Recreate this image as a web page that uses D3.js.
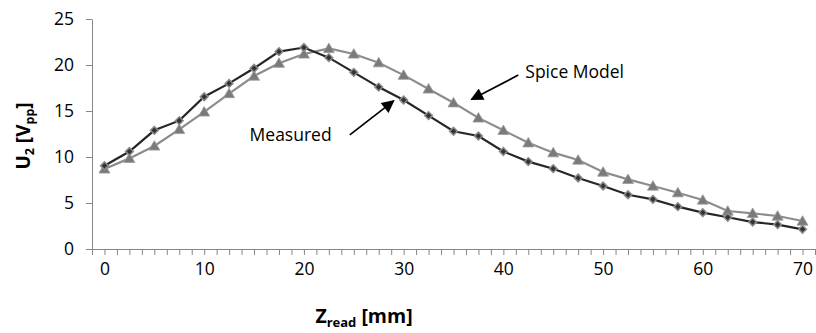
<!DOCTYPE html>
<html>
<head>
<meta charset="utf-8">
<script src="https://cdn.jsdelivr.net/npm/d3@7"></script>
<style>
html,body{margin:0;padding:0;background:#fff;}
svg{display:block;}
text{font-family:"Open Sans","Liberation Sans",sans-serif;}
</style>
</head>
<body>
<svg id="chart" width="816" height="333"></svg>
<script>
// ---- data ----
const zRead = [0,2.5,5,7.5,10,12.5,15,17.5,20,22.5,25,27.5,30,32.5,35,37.5,40,42.5,45,47.5,50,52.5,55,57.5,60,62.5,65,67.5,70];
const measured = [9.05,10.6,12.9,13.95,16.55,18.0,19.65,21.45,21.9,20.8,19.2,17.6,16.2,14.5,12.8,12.28,10.6,9.5,8.73,7.72,6.85,5.9,5.4,4.6,3.95,3.45,2.93,2.65,2.14];
const spice = [8.7,9.85,11.2,13.0,14.9,16.9,18.8,20.2,21.2,21.8,21.2,20.25,18.9,17.4,15.9,14.25,12.9,11.55,10.47,9.67,8.37,7.57,6.85,6.12,5.33,4.13,3.88,3.59,3.04];
const yTicks = [0,5,10,15,20,25];
const xTicks = [0,10,20,30,40,50,60,70];
const xMinorStep = 1.25;
// annotations in data units
const annotations = [
  {label:"Spice Model", tx:42.2, ty:18.55, x1:41.5, y1:18.9, x2:36.8, y2:16.25},
  {label:"Measured", tx:14.55, ty:11.75, x1:24.6, y1:12.4, x2:29.0, y2:16.1}
];

const svg = d3.select("#chart");
const x = d3.scaleLinear().domain([-1.25, 71.25]).range([92, 815]);
const y = d3.scaleLinear().domain([0, 25]).range([249, 19]);
const axisColor = "#868686";

svg.append("rect").attr("width",816).attr("height",333).attr("fill","#fff");

// Y axis
const gy = svg.append("g").attr("transform",`translate(${x(-1.25)},0)`)
  .call(d3.axisLeft(y).tickValues(yTicks).tickSize(6).tickSizeOuter(0).tickPadding(12));
gy.select(".domain").attr("stroke",axisColor);
gy.selectAll(".tick line").attr("stroke",axisColor);
gy.selectAll(".tick text").attr("font-size","17.5px").attr("fill","#000")
  .attr("font-family","'Open Sans',sans-serif");

// X axis minor ticks
const minor = d3.range(-1.25, 71.25 + 0.001, xMinorStep);
const gx = svg.append("g").attr("transform",`translate(0,${y(0)})`)
  .call(d3.axisBottom(x).tickValues(minor).tickSize(6).tickSizeOuter(0).tickFormat(""));
gx.select(".domain").attr("stroke",axisColor);
gx.selectAll(".tick line").attr("stroke",axisColor);
// X labels
const gxl = svg.append("g").attr("transform",`translate(0,${y(0)})`)
  .call(d3.axisBottom(x).tickValues(xTicks).tickSize(0).tickPadding(14));
gxl.select(".domain").remove();
gxl.selectAll(".tick text").attr("font-size","17.5px").attr("fill","#000")
  .attr("font-family","'Open Sans',sans-serif");

// Lines
const line = d3.line().x((d,i)=>x(zRead[i])).y(d=>y(d));
svg.append("path").datum(spice).attr("d",line).attr("fill","none")
  .attr("stroke","#8c8c8c").attr("stroke-width",2.2);
svg.append("path").datum(measured).attr("d",line).attr("fill","none")
  .attr("stroke","#262626").attr("stroke-width",2.2);

// markers
svg.append("g").selectAll("path").data(spice).join("path")
  .attr("transform",(d,i)=>`translate(${x(zRead[i])},${y(d)+1})`)
  .attr("d",d3.symbol().type(d3.symbolTriangle).size(52))
  .attr("fill","#7a7a7a").attr("stroke","#9a9a9a").attr("stroke-width",0.8);
svg.append("g").selectAll("path").data(measured).join("path")
  .attr("transform",(d,i)=>`translate(${x(zRead[i])},${y(d)}) rotate(45)`)
  .attr("d",d3.symbol().type(d3.symbolSquare).size(30))
  .attr("fill","#333").attr("stroke","#8a8a8a").attr("stroke-width",1.5);

// arrows
const defs = svg.append("defs");
defs.append("marker").attr("id","ah").attr("viewBox","0 0 10 10")
  .attr("refX",9).attr("refY",5).attr("markerWidth",8.5).attr("markerHeight",7.5)
  .attr("markerUnits","strokeWidth").attr("orient","auto")
  .append("path").attr("d","M0,0 L10,5 L0,10 Z").attr("fill","#000");
annotations.forEach(a=>{
  svg.append("line").attr("x1",x(a.x1)).attr("y1",y(a.y1)).attr("x2",x(a.x2)).attr("y2",y(a.y2))
    .attr("stroke","#000").attr("stroke-width",1.7).attr("marker-end","url(#ah)");
  svg.append("text").attr("x",x(a.tx)).attr("y",y(a.ty)).attr("font-size","17.5px")
    .attr("fill","#000").text(a.label);
});

// axis titles
const yt = svg.append("text").attr("transform","translate(30,136) rotate(-90)")
  .attr("text-anchor","middle").attr("font-weight","bold").attr("font-size","19px").attr("fill","#000");
yt.append("tspan").text("U");
yt.append("tspan").attr("font-size","12.5px").attr("dy",4).text("2");
yt.append("tspan").attr("dy",-4).text(" [V");
yt.append("tspan").attr("font-size","12.5px").attr("dy",4).text("pp");
yt.append("tspan").attr("dy",-4).text("]");

const xt = svg.append("text").attr("x",364).attr("y",323)
  .attr("text-anchor","middle").attr("font-weight","bold").attr("font-size","19.5px").attr("fill","#000");
xt.append("tspan").text("Z");
xt.append("tspan").attr("font-size","13px").attr("dy",4).text("read");
xt.append("tspan").attr("dy",-4).text(" [mm]");
</script>
</body>
</html>
